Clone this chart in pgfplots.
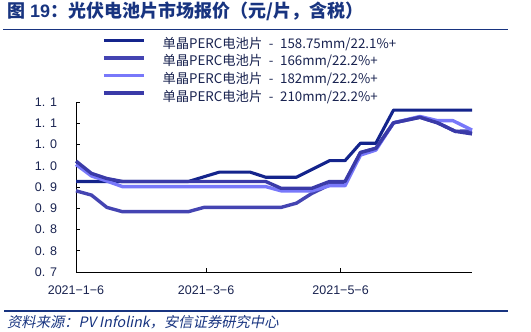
\documentclass[border=0pt]{standalone}
\usepackage{fontspec}
\usepackage{pgfplots}
\pgfplotsset{compat=1.18}
\setmainfont{Liberation Sans}
\newfontfamily\cjk{Noto Sans CJK SC}
\newfontfamily\cjkit[FakeSlant=0.2]{Noto Sans CJK SC}
\definecolor{navy}{RGB}{20,36,140}
\definecolor{cA}{RGB}{68,68,178}
\definecolor{cB}{RGB}{120,120,250}
\definecolor{cC}{RGB}{58,58,168}
\definecolor{titleblue}{RGB}{24,52,128}
\definecolor{tickc}{RGB}{25,35,80}
\newcommand{\dsh}{\hspace{0.5em}-\hspace{0.5em}}
\begin{document}
\begin{tikzpicture}
\useasboundingbox (0,0) rectangle (531bp,332bp);
\node[anchor=base west, inner sep=0, text=titleblue] at (7bp,314.5bp) {\fontsize{18bp}{20bp}\selectfont{\cjk\bfseries 图} {\bfseries 19}{\cjk\bfseries ：光伏电池片市场报价（元/片，含税）}};
\draw[titleblue, line width=1.2bp] (3bp,302.7bp) -- (508bp,302.7bp);
\draw[titleblue, line width=1.2bp] (4bp,21bp) -- (508bp,21bp);
\node[anchor=base west, inner sep=0, text=titleblue] at (7bp,4.5bp) {\fontsize{14.3bp}{16bp}\selectfont\cjkit 资料来源：{\itshape PV Infolink}，安信证券研究中心};
\begin{axis}[
  at={(76bp,60bp)}, anchor=south west,
  width=396bp, height=170bp, scale only axis,
  xmin=0, xmax=179.6, ymin=0.7, ymax=1.1,
  axis x line*=bottom, axis y line*=left,
  axis line style={black, line width=0.9bp},
  xtick={0,59,120},
  xticklabels={2021−1−6,2021−3−6,2021−5−6},
  ytick={0.7,0.75,0.8,0.85,0.9,0.95,1.0,1.05,1.1},
  yticklabels={0. 7,0. 8,0. 8,0. 9,0. 9,1. 0,1. 0,1. 1,1. 1},
  tick align=inside, major tick length=4bp,
  tick style={black, line width=0.9bp},
  ticklabel style={font=\fontsize{12.5bp}{14bp}\selectfont, text=tickc},
  xticklabel style={yshift=-10bp},
  yticklabel style={xshift=-15.5bp},
  legend cell align=left,
  legend image code/.code={\draw[#1, yshift=4.5bp] (0bp,0bp) -- (40bp,0bp); \path (57bp,0bp);},
  legend style={at={(axis description cs:0.0657,1.394)}, anchor=north west,
    fill=white, draw=none, inner xsep=0bp, inner ysep=3bp,
    font=\fontsize{13.3bp}{15bp}\selectfont\cjk, text=tickc,
    row sep=4.6bp,
    nodes={inner sep=0bp, text height=10bp, text depth=3bp}},
  every axis plot/.append style={line width=3.4bp, line join=round, mark=none},
  clip=false,
]
\addplot[navy, line width=3.1bp] coordinates {
(0,0.913) (51,0.913) (65,0.935) (79,0.935) (86,0.923) (100,0.923) (115,0.962) (122,0.962) (129,1.003) (136,1.003) (144,1.081) (179.6,1.081)};
\addlegendentry{单晶PERC电池片\dsh 158.75mm/22.1\%+}
\addplot[cA] coordinates {
(0,0.891) (7,0.881) (14,0.852) (21,0.842) (51,0.842) (58,0.852) (93,0.852) (100,0.862) (107,0.885) (115,0.905) (122,0.910) (129,0.981) (136,0.991) (144,1.051) (156,1.064) (164,1.051) (172,1.031) (179.6,1.032)};
\addlegendentry{单晶PERC电池片\dsh 166mm/22.2\%+}
\addplot[cB] coordinates {
(0,0.953) (7,0.926) (14,0.914) (21,0.901) (86,0.901) (93,0.891) (107,0.891) (115,0.903) (122,0.903) (129,0.975) (136,0.987) (144,1.051) (156,1.066) (164,1.056) (171,1.056) (179.6,1.034)};
\addlegendentry{单晶PERC电池片\dsh 182mm/22.2\%+}
\addplot[cC] coordinates {
(0,0.961) (7,0.932) (14,0.920) (21,0.913) (86,0.913) (93,0.897) (107,0.897) (115,0.913) (122,0.913) (129,0.981) (136,0.991) (144,1.051) (156,1.064) (164,1.051) (172,1.031) (179.6,1.025)};
\addlegendentry{单晶PERC电池片\dsh 210mm/22.2\%+}
\end{axis}
\end{tikzpicture}
\end{document}
